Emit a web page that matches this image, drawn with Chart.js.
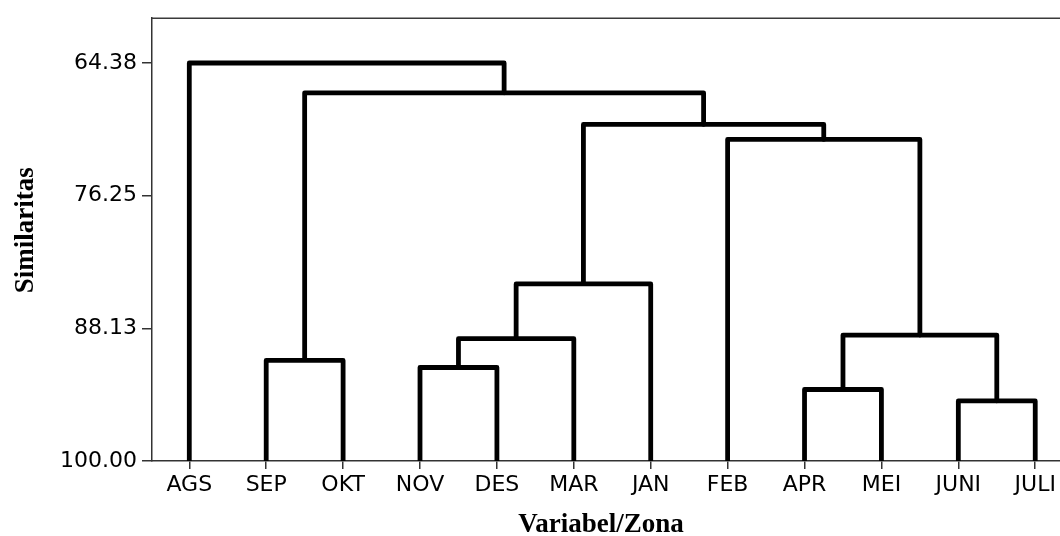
<!DOCTYPE html>
<html><head><meta charset="utf-8">
<script src="https://cdn.jsdelivr.net/npm/chart.js@4/dist/chart.umd.min.js"></script>
<style>html,body{margin:0;padding:0;background:#fff;overflow:hidden}</style>
</head><body>
<canvas id="c" width="1060" height="536"></canvas>
<script>
// Leaves (x-axis categories)
const categories = ['AGS','SEP','OKT','NOV','DES','MAR','JAN','FEB','APR','MEI','JUNI','JULI'];
// Linkage: nodes 0..11 are leaves, node 12+k is the k-th merge
const mergeLeft  = [1, 3, 13, 14, 8, 10, 16, 7, 15, 12, 0];
const mergeRight = [2, 4, 5, 6, 9, 11, 17, 18, 19, 20, 21];
const mergeSimilarity = [91.00, 91.63, 89.05, 84.15, 93.60, 94.62, 88.73, 71.22, 69.88, 67.05, 64.38];
const leafSimilarity = 100.00;
const yTickValues = [64.38, 76.25, 88.13, 100.00];
const xTitle = 'Variabel/Zona';
const yTitle = 'Similaritas';

// Build node positions from linkage
const nodeX = categories.map((_, i) => i);
const nodeY = categories.map(() => leafSimilarity);
const datasets = [];
mergeLeft.forEach((l, k) => {
  const r = mergeRight[k], h = mergeSimilarity[k];
  datasets.push({
    data: [{x: nodeX[l], y: nodeY[l]}, {x: nodeX[l], y: h}, {x: nodeX[r], y: h}, {x: nodeX[r], y: nodeY[r]}],
    borderColor: '#000', borderWidth: 4.8, pointRadius: 0, fill: false,
    borderJoinStyle: 'round', borderCapStyle: 'butt', tension: 0
  });
  nodeX.push((nodeX[l] + nodeX[r]) / 2);
  nodeY.push(h);
});

const titleFontCss = 'bold 27px "Liberation Serif", "Times New Roman", serif';
const frame = {
  id: 'frame',
  afterDraw(chart) {
    const {ctx, chartArea: a} = chart;
    ctx.save();
    ctx.strokeStyle = '#3a3a3a'; ctx.lineWidth = 1.5;
    ctx.beginPath(); ctx.moveTo(a.left, a.top); ctx.lineTo(a.right, a.top); ctx.stroke();
    // axis titles
    ctx.fillStyle = '#000';
    ctx.font = titleFontCss;
    ctx.textAlign = 'center';
    ctx.textBaseline = 'alphabetic';
    ctx.fillText(xTitle, a.left + 449, chart.height - 4);
    ctx.translate(33, a.top + 212);
    ctx.rotate(-Math.PI / 2);
    ctx.fillText(yTitle, 0, 0);
    ctx.restore();
  }
};

const tickFont = {family: 'DejaVu Sans', size: 22};

new Chart(document.getElementById('c'), {
  type: 'line',
  data: {datasets},
  plugins: [frame],
  options: {
    responsive: false, devicePixelRatio: 1, animation: false,
    layout: {padding: {top: 17, right: 0, bottom: 0, left: 0}},
    plugins: {legend: {display: false}, tooltip: {enabled: false}},
    elements: {line: {clip: false}},
    scales: {
      x: {
        type: 'linear', min: -0.485, max: 11.322,
        afterBuildTicks: s => { s.ticks = categories.map((_, i) => ({value: i})); },
        afterFit: s => { s.height = 75; },
        ticks: {callback: v => categories[v], font: tickFont, color: '#000', padding: 3, maxRotation: 0, autoSkip: false},
        grid: {drawOnChartArea: false, drawTicks: true, tickLength: 8, color: '#333', lineWidth: 1.5},
        border: {display: true, color: '#333', width: 1.5},
        title: {display: false}
      },
      y: {
        type: 'linear', reverse: true, min: 60.37, max: 100,
        afterBuildTicks: s => { s.ticks = yTickValues.map(v => ({value: v})); },
        afterFit: s => { s.width = 152; },
        ticks: {callback: v => Number(v).toFixed(2), font: tickFont, color: '#000', padding: 5, autoSkip: false},
        grid: {drawOnChartArea: false, drawTicks: true, tickLength: 10, color: '#333', lineWidth: 1.5},
        border: {display: true, color: '#333', width: 1.5},
        title: {display: false}
      }
    }
  }
});
</script>
</body></html>
